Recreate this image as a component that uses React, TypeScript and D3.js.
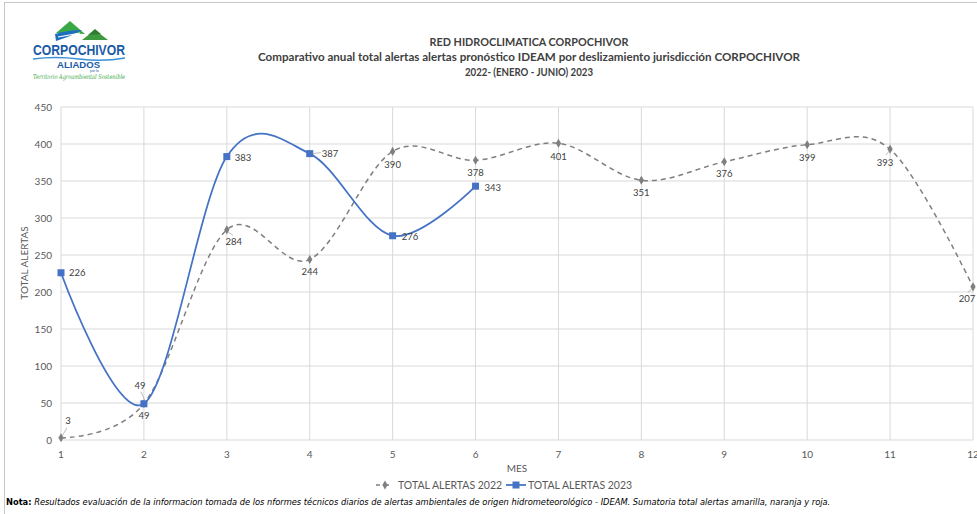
import React from "react";
import * as d3 from "d3";

const months = [1, 2, 3, 4, 5, 6, 7, 8, 9, 10, 11, 12];
const values2022 = [3, 49, 284, 244, 390, 378, 401, 351, 376, 399, 393, 207];
const months2023 = [1, 2, 3, 4, 5, 6];
const values2023 = [226, 49, 383, 387, 276, 343];
const yTicks = [0, 50, 100, 150, 200, 250, 300, 350, 400, 450];

const titleLines = [
  "RED HIDROCLIMATICA CORPOCHIVOR",
  "Comparativo anual total alertas alertas pronóstico IDEAM por deslizamiento jurisdicción CORPOCHIVOR",
  "2022- (ENERO - JUNIO) 2023",
];
const titleWidths = [199, 542, 128];
const legend2022 = "TOTAL ALERTAS 2022";
const legend2023 = "TOTAL ALERTAS 2023";
const noteBold = "Nota:";
const noteText =
  " Resultados evaluación de la informacion tomada de los nformes técnicos diarios de alertas ambientales de origen hidrometeorológico - IDEAM. Sumatoria total alertas amarilla, naranja y roja.";

// label placement (layout only): [dx, dy, leader]
const lab2022: [number, number, boolean][] = [
  [7, -17, true], [0, 12, false], [7, 12, true], [0, 12, false], [0, 13, false], [0, 12, false],
  [0, 13, false], [0, 12, false], [0, 12, false], [0, 13, false], [-5, 13, true], [-6, 12, true],
];
const lab2023: [number, number, boolean, string][] = [
  [8, 0, false, "start"], [-4, -18, true, "middle"], [8, 1, false, "start"],
  [12, 0, true, "start"], [9, 1, false, "start"], [9, 1, false, "start"],
];

const W = 977;
const H = 514;
const M = { left: 61, right: 973, top: 107, bottom: 440 };
const FONT = "Lato, 'Open Sans', sans-serif";
const BLUE = "#4472c4";
const GRAY = "#7f7f7f";

export default function App() {
  const x = d3.scaleLinear().domain([1, 12]).range([M.left, M.right]);
  const y = d3.scaleLinear().domain([0, 450]).range([M.bottom, M.top]);
  const curve = d3.curveCardinal.tension(0);
  const line = d3
    .line<[number, number]>()
    .x((d) => x(d[0]))
    .y((d) => y(d[1]))
    .curve(curve);
  const pts2022: [number, number][] = months.map((m, i) => [m, values2022[i]]);
  const pts2023: [number, number][] = months2023.map((m, i) => [m, values2023[i]]);

  return (
    <div style={{ position: "fixed", left: 0, top: 0 }}>
      <svg width={W} height={H} style={{ display: "block", background: "#fff" }}>
        {/* frame */}
        <line x1={4} x2={W} y1={2.5} y2={2.5} stroke="#c8c8c8" />
        <line x1={4.5} x2={4.5} y1={2} y2={H} stroke="#c8c8c8" />

        {/* logo */}
        <g>
          <path d="M56,33 L70,21 L85,34 Z" fill="#3aa845" />
          <path d="M82,40 L95,30 L108,40 Z" fill="#3d9a3f" />
          <path d="M88,35 L95,29 L101,34 Z" fill="#2e7d32" />
          <path d="M55,34 Q68,30 82,30 Q72,36 56,41 Z" fill="#1f6fc0" />
          <path d="M58,37 Q70,35 80,33" stroke="#fff" strokeWidth={1.2} fill="none" />
          <text x={33} y={55} fontFamily="'Liberation Sans', Arial, sans-serif" fontWeight="bold" fontSize={15.5} fill="#1a5aa6" textLength={92} lengthAdjust="spacingAndGlyphs">
            CORPOCHIVOR
          </text>
          <path d="M33,59 Q55,56 79,59 T125,58" stroke="#3a8fd6" strokeWidth={1.5} fill="none" />
          <text x={57} y={68} fontFamily="'Liberation Sans', Arial, sans-serif" fontWeight="bold" fontSize={9} fill="#1a5aa6" textLength={43} lengthAdjust="spacingAndGlyphs">
            ALIADOS
          </text>
          <text x={90} y={72} fontFamily="'Liberation Sans', Arial, sans-serif" fontSize={3.5} fill="#1a5aa6">
            por la
          </text>
          <text x={33} y={79} fontFamily="'DejaVu Serif', serif" fontStyle="italic" fontSize={6.5} fill="#3aa845" textLength={92} lengthAdjust="spacingAndGlyphs">
            Territorio Agroambiental Sostenible
          </text>
        </g>

        {/* title */}
        {titleLines.map((t, i) => (
          <text key={i} x={529} y={46 + i * 15} textAnchor="middle" fontFamily={FONT} fontWeight="bold" fontSize={11.3} fill="#404040" textLength={titleWidths[i]} lengthAdjust="spacingAndGlyphs">
            {t}
          </text>
        ))}

        {/* gridlines */}
        {yTicks.map((t) => (
          <line key={"h" + t} x1={M.left} x2={M.right} y1={y(t)} y2={y(t)} stroke="#d9d9d9" strokeWidth={1} />
        ))}
        {months.map((m) => (
          <line key={"v" + m} x1={x(m)} x2={x(m)} y1={M.top} y2={M.bottom} stroke="#d9d9d9" strokeWidth={1} />
        ))}

        {/* y ticks */}
        {yTicks.map((t) => (
          <text key={"yt" + t} x={52} y={y(t) + 3.5} textAnchor="end" fontFamily={FONT} fontSize={10} fill="#595959">
            {t}
          </text>
        ))}
        {/* x ticks */}
        {months.map((m) => (
          <text key={"xt" + m} x={x(m)} y={458} textAnchor="middle" fontFamily={FONT} fontSize={10} fill="#595959">
            {m}
          </text>
        ))}

        {/* axis titles */}
        <text x={517} y={472} textAnchor="middle" fontFamily={FONT} fontSize={10} fill="#595959">
          MES
        </text>
        <text transform="translate(28,263) rotate(-90)" textAnchor="middle" fontFamily={FONT} fontSize={10} fill="#595959">
          TOTAL ALERTAS
        </text>

        {/* 2022 series */}
        <path d={line(pts2022) || ""} fill="none" stroke={GRAY} strokeWidth={1.5} strokeDasharray="5,4" />
        {pts2022.map((p, i) => (
          <path key={"d" + i} d={d3.symbol(d3.symbolDiamond, 24)() || ""} transform={`translate(${x(p[0])},${y(p[1])})`} fill={GRAY} />
        ))}

        {/* 2023 series */}
        <path d={line(pts2023) || ""} fill="none" stroke={BLUE} strokeWidth={1.75} />
        {pts2023.map((p, i) => (
          <rect key={"s" + i} x={x(p[0]) - 3.5} y={y(p[1]) - 3.5} width={7} height={7} fill={BLUE} />
        ))}

        {/* 2022 labels */}
        {pts2022.map((p, i) => {
          const [dx, dy, leader] = lab2022[i];
          const px = x(p[0]);
          const py = y(p[1]);
          return (
            <g key={"l22" + i}>
              {leader && (
                <line x1={px + dx * 0.2} y1={py + (dy > 0 ? 2 : -2)} x2={px + dx * 0.85} y2={py + dy * (dy > 0 ? 0.45 : 0.6)} stroke="#a6a6a6" strokeWidth={0.75} />
              )}
              <text x={px + dx} y={py + dy + 3.5} textAnchor="middle" fontFamily={FONT} fontSize={9.5} fill="#404040">
                {values2022[i]}
              </text>
            </g>
          );
        })}

        {/* 2023 labels */}
        {pts2023.map((p, i) => {
          const [dx, dy, leader, anchor] = lab2023[i];
          const px = x(p[0]);
          const py = y(p[1]);
          return (
            <g key={"l23" + i}>
              {leader && dy === 0 && (
                <line x1={px + 3} y1={py} x2={px + dx - 1} y2={py - 1} stroke="#a6a6a6" strokeWidth={0.75} />
              )}
              {leader && dy !== 0 && (
                <line x1={px + 1} y1={py - 3} x2={px + dx + 1} y2={py + dy + 6} stroke="#a6a6a6" strokeWidth={0.75} />
              )}
              <text x={px + dx} y={py + dy + 3.5} textAnchor={anchor as any} fontFamily={FONT} fontSize={9.5} fill="#404040">
                {values2023[i]}
              </text>
            </g>
          );
        })}

        {/* legend */}
        <g>
          <line x1={376} x2={394} y1={485} y2={485} stroke={GRAY} strokeWidth={1.5} strokeDasharray="4,5" />
          <path d={d3.symbol(d3.symbolDiamond, 24)() || ""} transform="translate(385,485)" fill={GRAY} />
          <text x={398} y={489} fontFamily={FONT} fontSize={10.5} fill="#595959">
            {legend2022}
          </text>
          <line x1={506} x2={526} y1={485} y2={485} stroke={BLUE} strokeWidth={1.75} />
          <rect x={512.5} y={481.5} width={7} height={7} fill={BLUE} />
          <text x={528} y={489} fontFamily={FONT} fontSize={10.5} fill="#595959">
            {legend2023}
          </text>
        </g>

        {/* note */}
        <text x={6} y={505} fontFamily="'DejaVu Sans', Verdana, sans-serif" fontSize={8.3} fill="#000">
          <tspan fontWeight="bold">{noteBold}</tspan>
          <tspan fontStyle="italic">{noteText}</tspan>
        </text>
      </svg>
    </div>
  );
}
